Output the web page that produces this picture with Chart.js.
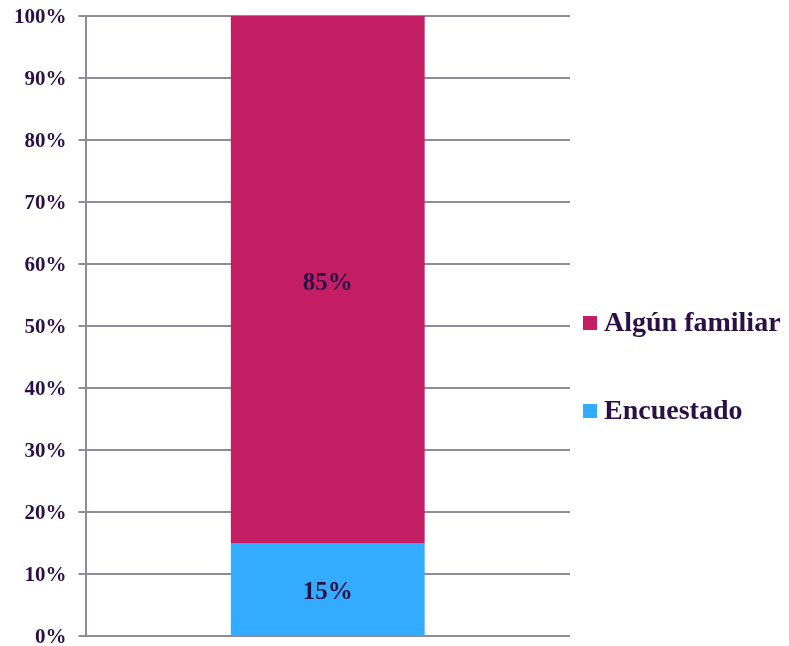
<!DOCTYPE html>
<html>
<head>
<meta charset="utf-8">
<script src="https://cdn.jsdelivr.net/npm/chart.js@4.4.1/dist/chart.umd.min.js"></script>
<style>
    html, body { margin: 0; padding: 0; background: #ffffff; }
</style>
</head>
<body>
<canvas id="stackchart" width="789" height="646"></canvas>
<script>
"use strict";

/* data */
var categories = [''];
var seriesNames = ['Encuestado', 'Algún familiar'];
var encuestado = [15];
var algunFamiliar = [85];
var yTickLabels = ['0%', '10%', '20%', '30%', '40%', '50%', '60%', '70%', '80%', '90%', '100%'];

var textColor = '#2b1048';
var gridColor = '#8e8c98';
var serifFont = '"Liberation Serif", "Times New Roman", serif';

/* labels inside each bar segment */
var segmentLabels = {
    id: 'segmentLabels',
    afterDatasetsDraw: function (chart) {
        var ctx = chart.ctx;
        ctx.save();
        ctx.font = 'bold 25px ' + serifFont;
        ctx.fillStyle = textColor;
        ctx.textAlign = 'center';
        ctx.textBaseline = 'middle';
        chart.data.datasets.forEach(function (ds, i) {
            var meta = chart.getDatasetMeta(i);
            meta.data.forEach(function (bar, j) {
                var p = bar.getProps(['x', 'y', 'base'], true);
                ctx.fillText(ds.data[j] + '%', p.x, (p.y + p.base) / 2 + 4);
            });
        });
        ctx.restore();
    }
};

/* legend on the right, top item first */
var sideLegend = {
    id: 'sideLegend',
    afterDraw: function (chart) {
        var ctx = chart.ctx;
        var area = chart.chartArea;
        var x = area.right + 13;
        var y = 323;
        ctx.save();
        ctx.font = 'bold 28px ' + serifFont;
        ctx.textBaseline = 'middle';
        ctx.textAlign = 'left';
        var sets = chart.data.datasets.slice().reverse();
        sets.forEach(function (ds) {
            ctx.fillStyle = ds.backgroundColor;
            ctx.fillRect(x, y - 7, 14, 14);
            ctx.fillStyle = textColor;
            ctx.fillText(ds.label, x + 21, y + 1);
            y += 88;
        });
        ctx.restore();
    }
};

var ctxStack = document.getElementById('stackchart').getContext('2d');

var stackConfig = {
    type: 'bar',
    data: {
        labels: categories,
        datasets: [{
            label: seriesNames[0],
            data: encuestado,
            backgroundColor: '#33abff',
            borderWidth: 0,
            barPercentage: 0.5,
            categoryPercentage: 0.8,
        },
        {
            label: seriesNames[1],
            data: algunFamiliar,
            backgroundColor: '#c41e64',
            borderWidth: 0,
            barPercentage: 0.5,
            categoryPercentage: 0.8,
        }]
    },
    options: {
        responsive: false,
        animation: false,
        layout: {
            padding: { top: 16, right: 219, bottom: 10, left: 2 }
        },
        plugins: {
            legend: { display: false },
            tooltip: { enabled: false },
        },
        scales: {
            x: {
                stacked: true,
                display: false,
            },
            y: {
                stacked: true,
                min: 0,
                max: 100,
                afterFit: function (scale) {
                    scale.paddingTop = 0;
                    scale.paddingBottom = 0;
                },
                border: { display: true, color: gridColor, width: 2 },
                grid: { color: gridColor, lineWidth: 2, tickLength: 7, drawTicks: true },
                ticks: {
                    stepSize: 10,
                    padding: 12,
                    labelOffset: 2,
                    color: textColor,
                    font: { family: serifFont, size: 21, weight: 'bold' },
                    callback: function (value) {
                        return yTickLabels[Math.round(value / 10)];
                    }
                }
            }
        }
    },
    plugins: [segmentLabels, sideLegend]
};

var stackChart = new Chart(ctxStack, stackConfig);
</script>
</body>
</html>
